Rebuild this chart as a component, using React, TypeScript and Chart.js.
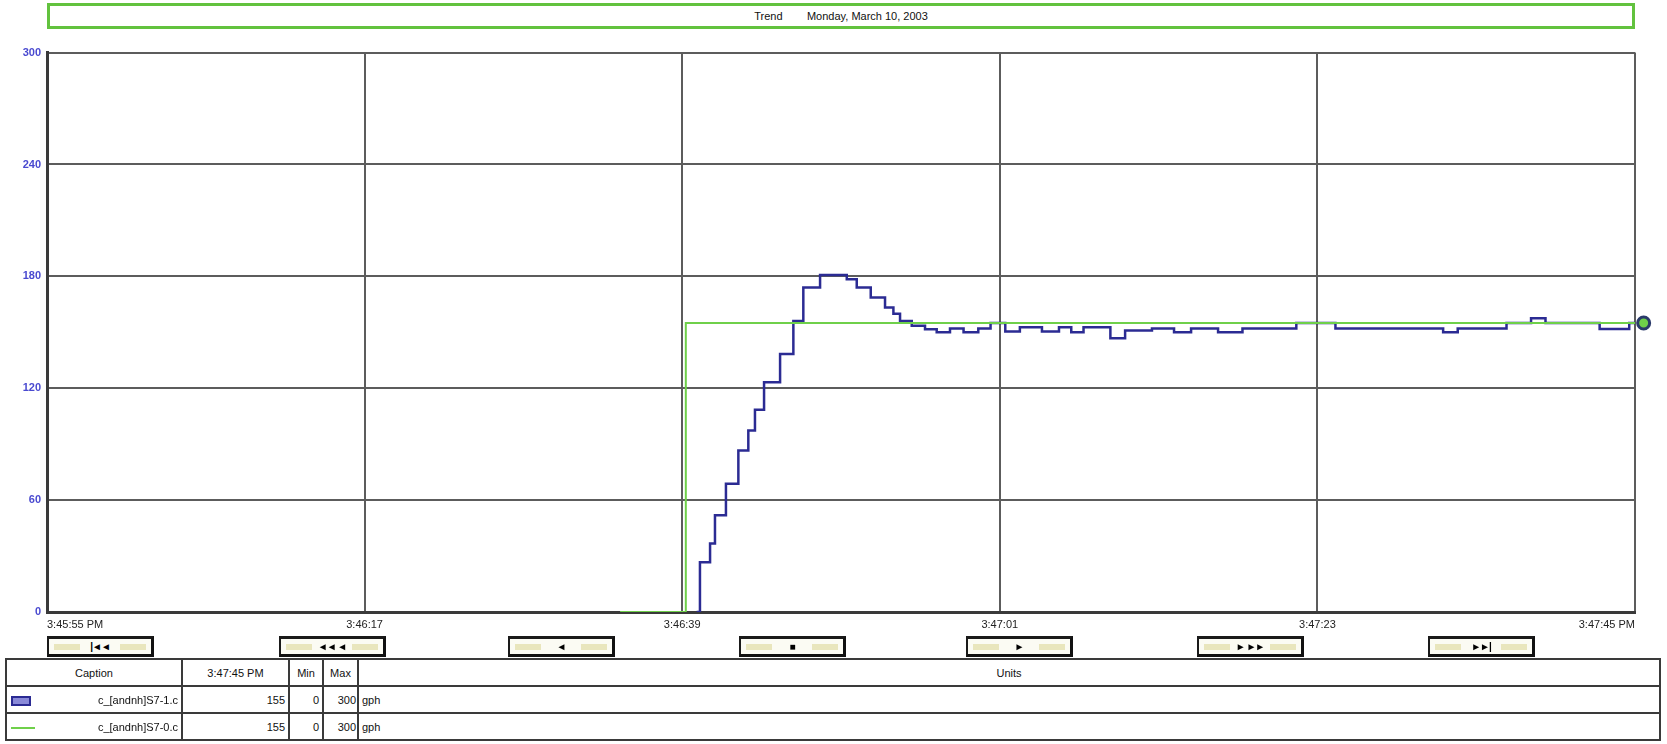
import React, { useEffect, useRef } from "react";
import Chart from "chart.js/auto";

// ---------- data ----------
const chartTitle = "Trend        Monday, March 10, 2003";
const yMin = 0;
const yMax = 300;
const yStep = 60;
const xTickSeconds = [0, 22, 44, 66, 88, 110];
const xTickLabels = ["3:45:55 PM", "3:46:17", "3:46:39", "3:47:01", "3:47:23", "3:47:45 PM"];

// process value (blue), stepped, seconds from left edge
const pvTimes = [
  45.0, 45.23, 45.93, 46.27, 47.03, 47.89, 48.58, 49.04, 49.67, 50.78, 51.7, 52.39, 53.55,
  55.4, 56.09, 57.06, 58.05, 58.63, 59.09, 59.9, 60.82, 61.63, 62.55, 63.49, 64.51, 65.36,
  66.38, 67.39, 68.92, 70.1, 70.95, 71.8, 73.66, 74.68, 76.54, 78.07, 79.25, 81.12, 82.81,
  86.54, 89.25, 96.71, 97.72, 101.1, 102.8, 103.8, 107.55, 109.6, 110,
];
const pvValues = [
  0, 26.7, 36.7, 51.9, 68.8, 86.6, 97.3, 108.4, 123.2, 138.3, 156.1, 174, 180.7,
  178.4, 174, 168.6, 163.3, 160, 156.1, 153.5, 151.7, 150, 152, 150, 152, 155,
  150.4, 152.7, 150.4, 152.7, 150, 152.7, 146.8, 151, 152, 150, 152, 150, 152,
  155, 152, 150, 152, 155, 157.5, 155, 151.8, 155, 155,
];

// setpoint (green)
const spTimes = [39.7, 44.25, 110];
const spValues = [0, 155, 155];

const endMarkerTime = [110.6];
const endMarkerValue = [155];

const buttonGlyphs = ["|◄◄", "◄◄ ◄", "◄", "■", "►", "► ►►", "►►|"];
const buttonLefts = [47, 279, 508, 739, 966, 1197, 1428];

const tableHeader = ["Caption", "3:47:45 PM", "Min", "Max", "Units"];
const rowCaptions = ["c_[andnh]S7-1.c", "c_[andnh]S7-0.c"];
const rowValues = ["155", "155"];
const rowMins = ["0", "0"];
const rowMaxs = ["300", "300"];
const rowUnits = ["gph", "gph"];

const PV_COLOR = "#2b2b93";
const SP_COLOR = "#6fd04a";

export default function App() {
  const canvasRef = useRef<HTMLCanvasElement | null>(null);

  useEffect(() => {
    const canvas = canvasRef.current;
    if (!canvas) return;
    Chart.defaults.font.family = "'Liberation Sans', Arial, sans-serif";
    const chart = new Chart(canvas, {
      type: "line",
      data: {
        datasets: [
          {
            label: "SP",
            data: spTimes.map((t, i) => ({ x: t, y: spValues[i] })),
            borderColor: SP_COLOR,
            borderWidth: 2,
            stepped: "before",
            pointRadius: 0,
            fill: false,
          },
          {
            label: "PV",
            data: pvTimes.map((t, i) => ({ x: t, y: pvValues[i] })),
            borderColor: PV_COLOR,
            borderWidth: 2.5,
            stepped: "before",
            pointRadius: 0,
            fill: false,
          },
          {
            label: "end",
            data: endMarkerTime.map((t, i) => ({ x: t, y: endMarkerValue[i] })),
            showLine: false,
            pointRadius: 6,
            pointBorderWidth: 3,
            pointBackgroundColor: SP_COLOR,
            pointBorderColor: "#2a3a6a",
            clip: false,
          },
        ],
      },
      options: {
        responsive: false,
        animation: false,
        layout: { padding: { top: 11, right: 32, left: 0, bottom: 0 } },
        plugins: {
          legend: { display: false },
          tooltip: { enabled: false },
          title: { display: false },
        },
        scales: {
          x: {
            type: "linear",
            min: 0,
            max: 110,
            afterBuildTicks: (s: any) => {
              s.ticks = xTickSeconds.map((v) => ({ value: v }));
            },
            afterFit: (s: any) => {
              s.height = 28;
            },
            ticks: {
              autoSkip: false,
              maxRotation: 0,
              align: "inner",
              padding: 6,
              color: "#222",
              font: { size: 11 },
              callback: (v: any) => {
                const i = xTickSeconds.indexOf(Number(v));
                return i >= 0 ? xTickLabels[i] : "";
              },
            },
            grid: { color: "#5c5c5c", lineWidth: 2, drawTicks: false },
            border: { color: "#3a3a3a", width: 3 },
          },
          y: {
            min: yMin,
            max: yMax,
            afterFit: (s: any) => {
              s.width = 47;
            },
            ticks: {
              stepSize: yStep,
              padding: 6,
              color: "#4a4ad0",
              font: { size: 11, weight: "bold" },
            },
            grid: { color: "#5c5c5c", lineWidth: 2, drawTicks: false },
            border: { color: "#3a3a3a", width: 3 },
          },
        },
      },
    } as any);
    return () => chart.destroy();
  }, []);

  const cellBorder = "2px solid #3a3a3a";
  const td = (extra: React.CSSProperties = {}): React.CSSProperties => ({
    border: cellBorder,
    padding: "0 3px",
    whiteSpace: "nowrap",
    overflow: "hidden",
    ...extra,
  });

  return (
    <div
      style={{
        position: "fixed",
        left: 0,
        top: 0,
        width: 1667,
        height: 744,
        background: "#fff",
        overflow: "hidden",
        fontFamily: "'Liberation Sans', Arial, sans-serif",
        color: "#111",
      }}
    >
      <div
        style={{
          position: "absolute",
          left: 47,
          top: 3,
          width: 1588,
          height: 26,
          boxSizing: "border-box",
          border: "3px solid #62c23e",
          display: "flex",
          alignItems: "center",
          justifyContent: "center",
          fontSize: 11,
          whiteSpace: "pre",
        }}
      >
        {chartTitle}
      </div>

      <div style={{ position: "absolute", left: 0, top: 40, width: 1667, height: 600 }}>
        <canvas ref={canvasRef} width={1667} height={600} style={{ width: 1667, height: 600 }} />
      </div>

      {buttonGlyphs.map((g, i) => (
        <div
          key={i}
          style={{
            position: "absolute",
            left: buttonLefts[i],
            top: 636,
            width: 107,
            height: 21,
            boxSizing: "border-box",
            borderTop: "3px solid #1a1a1a",
            borderLeft: "2px solid #1a1a1a",
            borderRight: "3px solid #111",
            borderBottom: "3px solid #111",
            background: "#fbfbf3",
            display: "flex",
            alignItems: "center",
            justifyContent: "space-between",
            padding: "0 5px",
          }}
        >
          <div style={{ width: 26, height: 6, background: "#e9e6bd" }} />
          <div style={{ fontSize: 10, fontWeight: "bold", color: "#000", letterSpacing: -1 }}>{g}</div>
          <div style={{ width: 26, height: 6, background: "#e9e6bd" }} />
        </div>
      ))}

      <table
        style={{
          position: "absolute",
          left: 5,
          top: 658,
          width: 1656,
          height: 83,
          borderCollapse: "collapse",
          tableLayout: "fixed",
          fontSize: 11,
        }}
      >
        <colgroup>
          <col style={{ width: 176 }} />
          <col style={{ width: 107 }} />
          <col style={{ width: 34 }} />
          <col style={{ width: 35 }} />
          <col />
        </colgroup>
        <tbody>
          <tr style={{ height: 27 }}>
            {tableHeader.map((h, i) => (
              <td key={i} style={td({ textAlign: "center", padding: 0 })}>
                {h}
              </td>
            ))}
          </tr>
          {rowCaptions.map((c, r) => (
            <tr key={r} style={{ height: 27 }}>
              <td style={td({ position: "relative" })}>
                {r === 0 ? (
                  <div
                    style={{
                      position: "absolute",
                      left: 4,
                      top: 9,
                      width: 16,
                      height: 6,
                      border: `2px solid ${PV_COLOR}`,
                      background: "#8a8ad8",
                    }}
                  />
                ) : (
                  <div
                    style={{
                      position: "absolute",
                      left: 4,
                      top: 13,
                      width: 24,
                      height: 2,
                      background: SP_COLOR,
                    }}
                  />
                )}
                <div style={{ textAlign: "right" }}>{c}</div>
              </td>
              <td style={td({ textAlign: "right" })}>{rowValues[r]}</td>
              <td style={td({ textAlign: "right" })}>{rowMins[r]}</td>
              <td style={td({ textAlign: "right", padding: "0 1px" })}>{rowMaxs[r]}</td>
              <td style={td({ textAlign: "left" })}>{rowUnits[r]}</td>
            </tr>
          ))}
        </tbody>
      </table>
    </div>
  );
}
